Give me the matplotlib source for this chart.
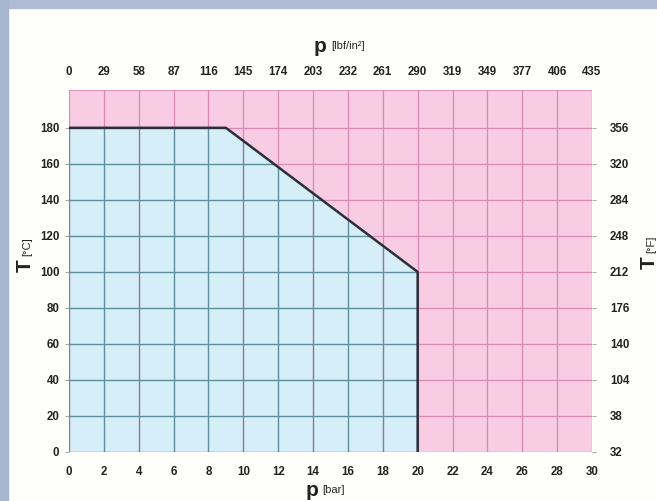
import matplotlib.pyplot as plt
from matplotlib.patches import Polygon, Rectangle

# pressure / temperature rating curve
p_bar = [0, 9, 20, 20]
t_c = [180, 180, 100, 0]

x_ticks = [0, 2, 4, 6, 8, 10, 12, 14, 16, 18, 20, 22, 24, 26, 28, 30]
psi_labels = ['0', '29', '58', '87', '116', '145', '174', '203', '232', '261',
              '290', '319', '349', '377', '406', '435']
y_ticks = [0, 20, 40, 60, 80, 100, 120, 140, 160, 180]
f_labels = ['32', '38', '104', '140', '176', '212', '248', '284', '320', '356']

pink = '#f8cde3'
blue = '#d5eef8'
pink_grid = '#d889b4'
blue_grid = '#5f8f9c'
txt = '#222222'

plt.rcParams['font.family'] = ['Liberation Sans', 'DejaVu Sans']

fig = plt.figure(figsize=(6.57, 5.01), dpi=100, facecolor='#fefefb')
# screenshot frame strips
fig.patches.append(Rectangle((0, 1 - 8/501), 1, 8/501, transform=fig.transFigure,
                             color='#b0bcd3', zorder=0))
fig.patches.append(Rectangle((0, 0), 8/657, 1, transform=fig.transFigure,
                             color='#a9b6cf', zorder=0))

ax = fig.add_axes([69/657, 49/501, 523/657, 362/501])
ax.set_xlim(0, 30)
ax.set_ylim(0, 201)
ax.set_facecolor(pink)

poly_pts = list(zip(p_bar, t_c)) + [(0, 0)]
poly = Polygon(poly_pts, closed=True, facecolor=blue, edgecolor='none', zorder=1)
ax.add_patch(poly)

# grid: pink everywhere, teal inside the blue area
for xv in x_ticks:
    ax.axvline(xv, color=pink_grid, lw=0.9, zorder=2)
    l = ax.axvline(xv, color=blue_grid, lw=0.9, zorder=3)
    l.set_clip_path(poly)
for yv in y_ticks:
    ax.axhline(yv, color=pink_grid, lw=0.9, zorder=2)
    l = ax.axhline(yv, color=blue_grid, lw=0.9, zorder=3)
    l.set_clip_path(poly)
ax.axhline(201, color=pink_grid, lw=1.2, zorder=2)

ax.plot(p_bar, t_c, color='#2a2f3a', lw=1.8, zorder=4)

for s in ax.spines.values():
    s.set_visible(False)

fs = 8.3
ax.set_xticks(x_ticks)
ax.set_xticklabels([str(v) for v in x_ticks])
ax.set_yticks(y_ticks)
ax.tick_params(axis='x', length=0, pad=10, labelsize=fs, labelcolor=txt)
ax.tick_params(axis='y', length=3, width=0.6, color='#999999', pad=4,
               labelsize=fs, labelcolor=txt)
for lb in ax.get_xticklabels() + ax.get_yticklabels():
    lb.set_fontweight('bold')

top = ax.twiny()
top.set_xlim(ax.get_xlim())
top.set_xticks(x_ticks)
top.set_xticklabels(psi_labels)
top.tick_params(axis='x', length=0, pad=9, labelsize=fs, labelcolor=txt)
for s in top.spines.values():
    s.set_visible(False)

right = ax.twinx()
right.set_ylim(ax.get_ylim())
right.set_yticks(y_ticks)
right.set_yticklabels(f_labels)
right.tick_params(axis='y', length=3, width=0.6, color='#999999', pad=10,
                  labelsize=fs, labelcolor=txt)
for s in right.spines.values():
    s.set_visible(False)
for lb in top.get_xticklabels() + right.get_yticklabels():
    lb.set_fontweight('bold')

# axis titles
fig.text(326/657, 1 - 47/501, 'p', fontsize=15, fontweight='bold', color=txt,
         ha='right', va='center')
fig.text(331/657, 1 - 46/501, '[lbf/in²]', fontsize=8, color=txt,
         ha='left', va='center')
fig.text(318/657, 1 - 491/501, 'p', fontsize=15, fontweight='bold', color=txt,
         ha='right', va='center')
fig.text(322/657, 1 - 490/501, '[bar]', fontsize=8, color=txt,
         ha='left', va='center')
fig.text(25/657, 1 - 259/501, 'T', fontsize=15, fontweight='bold', color=txt,
         ha='center', va='top', rotation=90)
fig.text(27/657, 1 - 256/501, '[°C]', fontsize=8, color=txt,
         ha='center', va='bottom', rotation=90)
fig.text(649/657, 1 - 256/501, 'T', fontsize=15, fontweight='bold', color=txt,
         ha='center', va='top', rotation=90)
fig.text(651/657, 1 - 253/501, '[°F]', fontsize=8, color=txt,
         ha='center', va='bottom', rotation=90)

fig.savefig('out.png', dpi=100, facecolor=fig.get_facecolor())
